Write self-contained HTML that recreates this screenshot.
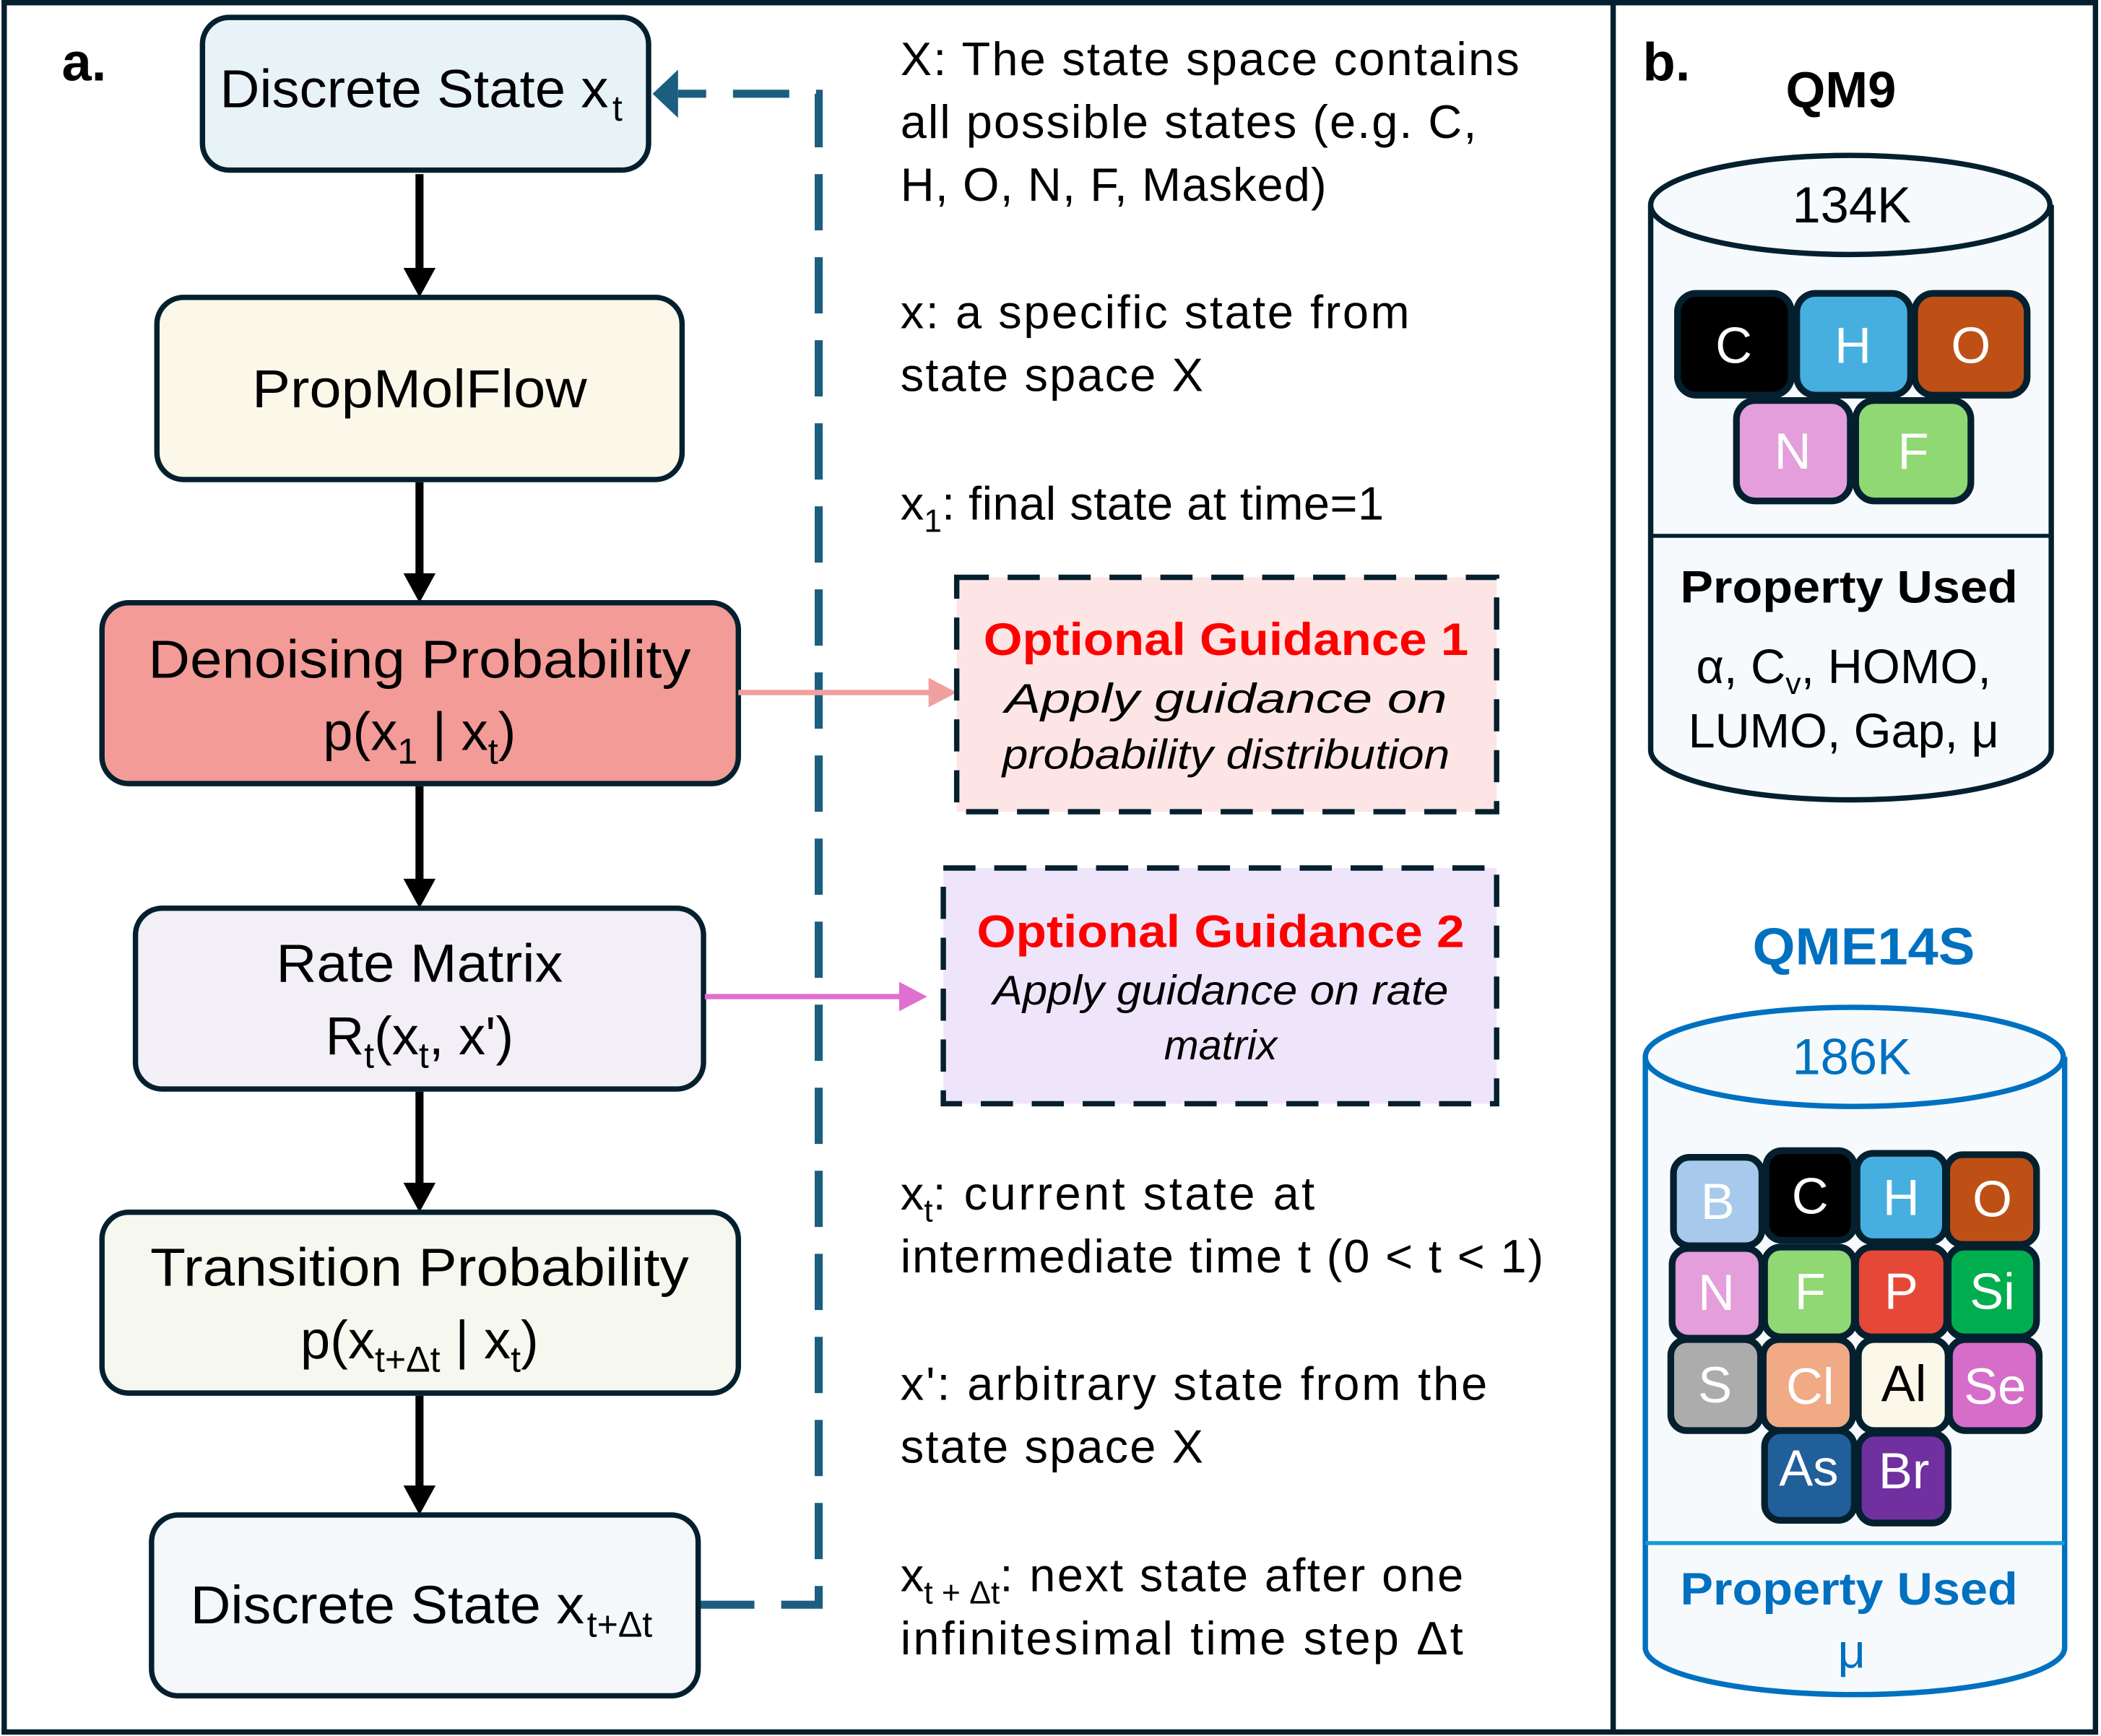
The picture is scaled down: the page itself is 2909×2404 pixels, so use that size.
<!DOCTYPE html>
<html><head><meta charset="utf-8"><style>html,body{margin:0;padding:0;background:#fff}svg{display:block}text{font-family:"Liberation Sans",sans-serif}</style></head>
<body>
<svg width="2909" height="2404" viewBox="0 0 1566 1296" xmlns="http://www.w3.org/2000/svg">
<rect x="2" y="2" width="1561" height="1291" fill="#fff" stroke="#04202f" stroke-width="4"/>
<line x1="1203" y1="2" x2="1203" y2="1294" stroke="#04202f" stroke-width="4"/>
<text x="45" y="60" font-size="40" font-weight="bold">a.</text>
<text x="1225" y="60" font-size="40" font-weight="bold">b.</text>

<g stroke="#000" stroke-width="6">
<line x1="312" y1="130" x2="312" y2="205"/><line x1="312" y1="360" x2="312" y2="433"/><line x1="312" y1="587" x2="312" y2="661"/><line x1="312" y1="815" x2="312" y2="888"/><line x1="312" y1="1042" x2="312" y2="1114"/>
</g>
<g fill="#000">
<path d="M300,200 L324,200 L312,222 z"/><path d="M300,428 L324,428 L312,450 z"/><path d="M300,656 L324,656 L312,678 z"/><path d="M300,883 L324,883 L312,905 z"/><path d="M300,1109 L324,1109 L312,1131 z"/>
</g>

<path d="M520,1198 L610,1198 L610,70 L505,70" fill="none" stroke="#1b5e80" stroke-width="6" stroke-dasharray="42 20"/>
<path d="M486,70 L505,52 L505,88 z" fill="#1b5e80"/>

<g stroke="#04202f" stroke-width="4">
<rect x="150" y="13" width="333" height="114" rx="20" fill="#e8f3f8"/>
<rect x="116" y="222" width="392" height="136" rx="20" fill="#fbf8e9"/>
<rect x="75" y="450" width="475" height="135" rx="20" fill="#f29b97"/>
<rect x="100" y="678" width="424" height="135" rx="20" fill="#f3eff6"/>
<rect x="75" y="905" width="475" height="135" rx="20" fill="#f6f8ef"/>
<rect x="112" y="1131" width="408" height="135" rx="20" fill="#f4f8fb"/>
</g>
<g font-size="40">
<text x="163" y="80" textLength="290" lengthAdjust="spacingAndGlyphs">Discrete State x</text><text x="456" y="90" font-size="27">t</text>
<text x="312" y="304" text-anchor="middle" textLength="250" lengthAdjust="spacingAndGlyphs">PropMolFlow</text>
<text x="312" y="506" text-anchor="middle" textLength="405" lengthAdjust="spacingAndGlyphs">Denoising Probability</text>
<text x="312" y="560" text-anchor="middle">p(x<tspan font-size="27" dy="10">1</tspan><tspan dy="-10"> | x</tspan><tspan font-size="27" dy="10">t</tspan><tspan dy="-10">)</tspan></text>
<text x="312" y="733" text-anchor="middle" textLength="214" lengthAdjust="spacingAndGlyphs">Rate Matrix</text>
<text x="312" y="787" text-anchor="middle">R<tspan font-size="27" dy="10">t</tspan><tspan dy="-10">(x</tspan><tspan font-size="27" dy="10">t</tspan><tspan dy="-10">, x')</tspan></text>
<text x="312" y="960" text-anchor="middle" textLength="402" lengthAdjust="spacingAndGlyphs">Transition Probability</text>
<text x="312" y="1014" text-anchor="middle">p(x<tspan font-size="27" dy="10">t+Δt</tspan><tspan dy="-10"> | x</tspan><tspan font-size="27" dy="10">t</tspan><tspan dy="-10">)</tspan></text>
<text x="141" y="1212" textLength="294" lengthAdjust="spacingAndGlyphs">Discrete State x</text><text x="437" y="1222" font-size="27">t+Δt</text>
</g>

<line x1="550" y1="517" x2="694" y2="517" stroke="#f0a0a0" stroke-width="4"/>
<path d="M713,517 L692,506 L692,528 z" fill="#f0a0a0"/>
<line x1="525" y1="744" x2="672" y2="744" stroke="#e070d0" stroke-width="4"/>
<path d="M691,744 L670,733 L670,755 z" fill="#e070d0"/>
<rect x="713" y="431" width="403" height="175" fill="#fde5e5" stroke="#04202f" stroke-width="4" stroke-dasharray="24 14"/>
<rect x="703" y="648" width="413" height="176" fill="#efe5fb" stroke="#04202f" stroke-width="4" stroke-dasharray="24 14"/>
<g text-anchor="middle">
<text x="914" y="489" font-size="34" font-weight="bold" fill="#f00" textLength="362" lengthAdjust="spacingAndGlyphs">Optional Guidance 1</text>
<text x="914" y="532" font-size="31" font-style="italic" textLength="330" lengthAdjust="spacingAndGlyphs">Apply guidance on</text>
<text x="914" y="574" font-size="31" font-style="italic" textLength="334" lengthAdjust="spacingAndGlyphs">probability distribution</text>
<text x="910" y="707" font-size="34" font-weight="bold" fill="#f00" textLength="364" lengthAdjust="spacingAndGlyphs">Optional Guidance 2</text>
<text x="910" y="750" font-size="31" font-style="italic" textLength="340" lengthAdjust="spacingAndGlyphs">Apply guidance on rate</text>
<text x="910" y="791" font-size="31" font-style="italic">matrix</text>
</g>

<g font-size="35">
<text x="671" y="56" textLength="462">X: The state space contains</text>
<text x="671" y="103" textLength="430">all possible states (e.g. C,</text>
<text x="671" y="150" textLength="318">H, O, N, F, Masked)</text>
<text x="671" y="245" textLength="380">x: a specific state from</text>
<text x="671" y="292" textLength="226">state space X</text>
<text x="671" y="388">x<tspan font-size="24" dy="9">1</tspan><tspan dy="-9" textLength="330">: final state at time=1</tspan></text>
<text x="671" y="903">x<tspan font-size="24" dy="9">t</tspan><tspan dy="-9" textLength="285">: current state at</tspan></text>
<text x="671" y="950" textLength="480">intermediate time t (0 &lt; t &lt; 1)</text>
<text x="671" y="1045" textLength="438">x':  arbitrary state from the</text>
<text x="671" y="1092" textLength="226">state space X</text>
<text x="671" y="1188">x<tspan font-size="24" dy="9">t + Δt</tspan><tspan dy="-9" textLength="346">: next state after one</tspan></text>
<text x="671" y="1235" textLength="420">infinitesimal time step Δt</text>
</g>

<text x="1373" y="80" font-size="38" font-weight="bold" text-anchor="middle">QM9</text>
<path d="M1231,153 L1231,560 A149,37 0 0 0 1530,560 L1530,153" fill="#f6fafd" stroke="#04202f" stroke-width="4"/>
<ellipse cx="1380" cy="153" rx="149" ry="37" fill="#f6fafd" stroke="#04202f" stroke-width="4"/>
<line x1="1231" y1="400" x2="1530" y2="400" stroke="#04202f" stroke-width="3"/>
<text x="1381" y="166" font-size="38" text-anchor="middle">134K</text>
<g stroke="#04202f" stroke-width="5">
<rect x="1251" y="219" width="85" height="76" rx="14" fill="#000"/>
<rect x="1340" y="219" width="85" height="76" rx="14" fill="#46afe0"/>
<rect x="1428" y="219" width="84" height="76" rx="14" fill="#bf5015"/>
<rect x="1295" y="299" width="85" height="75" rx="14" fill="#e39edb"/>
<rect x="1384" y="299" width="86" height="75" rx="14" fill="#8fd874"/>
</g>
<g font-size="38" fill="#fff" text-anchor="middle">
<text x="1293" y="271">C</text><text x="1382" y="271">H</text><text x="1470" y="271">O</text><text x="1337" y="350">N</text><text x="1427" y="350">F</text>
</g>
<text x="1379" y="450" font-size="34" font-weight="bold" text-anchor="middle" textLength="252" lengthAdjust="spacingAndGlyphs">Property Used</text>
<text x="1375" y="510" font-size="36" text-anchor="middle">α, C<tspan font-size="23" dy="8">v</tspan><tspan dy="-8">, HOMO,</tspan></text>
<text x="1375" y="558" font-size="36" text-anchor="middle" textLength="232">LUMO, Gap, μ</text>

<text x="1390" y="720" font-size="39" font-weight="bold" fill="#0070c0" text-anchor="middle" textLength="166" lengthAdjust="spacingAndGlyphs">QME14S</text>
<path d="M1227,789 L1227,1230 A156,35 0 0 0 1540,1230 L1540,789" fill="#f6fafd" stroke="#0070c0" stroke-width="4"/>
<ellipse cx="1383" cy="789" rx="156" ry="37" fill="#f6fafd" stroke="#0070c0" stroke-width="4"/>
<line x1="1227" y1="1152" x2="1540" y2="1152" stroke="#1a9ad6" stroke-width="3"/>
<text x="1381" y="802" font-size="38" fill="#0070c0" text-anchor="middle">186K</text>
<g stroke="#04202f" stroke-width="5">
<rect x="1248" y="864" width="66" height="66" rx="12" fill="#a7c9ec"/>
<rect x="1317" y="859" width="66" height="67" rx="12" fill="#000"/>
<rect x="1385" y="861" width="66" height="66" rx="12" fill="#46afe0"/>
<rect x="1452" y="862" width="67" height="67" rx="12" fill="#bf5015"/>
<rect x="1247" y="932" width="67" height="67" rx="12" fill="#e39edb"/>
<rect x="1316" y="931" width="67" height="67" rx="12" fill="#8fd874"/>
<rect x="1384" y="931" width="68" height="67" rx="12" fill="#e64838"/>
<rect x="1453" y="931" width="66" height="67" rx="12" fill="#00ae50"/>
<rect x="1246" y="1000" width="67" height="68" rx="12" fill="#acacac"/>
<rect x="1315" y="1000" width="67" height="68" rx="12" fill="#f0aa86"/>
<rect x="1386" y="1000" width="67" height="68" rx="12" fill="#fbf8e9"/>
<rect x="1454" y="1000" width="67" height="68" rx="12" fill="#d66dc9"/>
<rect x="1316" y="1068" width="67" height="67" rx="12" fill="#215f9a"/>
<rect x="1386" y="1070" width="67" height="67" rx="12" fill="#7030a0"/>
</g>
<g font-size="38" fill="#fff" text-anchor="middle">
<text x="1281" y="910">B</text><text x="1350" y="906">C</text><text x="1418" y="907">H</text><text x="1486" y="908">O</text>
<text x="1280" y="978">N</text><text x="1350" y="977">F</text><text x="1418" y="977">P</text><text x="1486" y="977">Si</text>
<text x="1279" y="1047">S</text><text x="1350" y="1048">Cl</text><text x="1420" y="1046" fill="#000">Al</text><text x="1488" y="1048">Se</text>
<text x="1349" y="1109">As</text><text x="1420" y="1111">Br</text>
</g>
<text x="1379" y="1198" font-size="34" font-weight="bold" fill="#0070c0" text-anchor="middle" textLength="252" lengthAdjust="spacingAndGlyphs">Property Used</text>
<text x="1381" y="1245" font-size="36" fill="#0070c0" text-anchor="middle">μ</text>
</svg>
</body></html>
